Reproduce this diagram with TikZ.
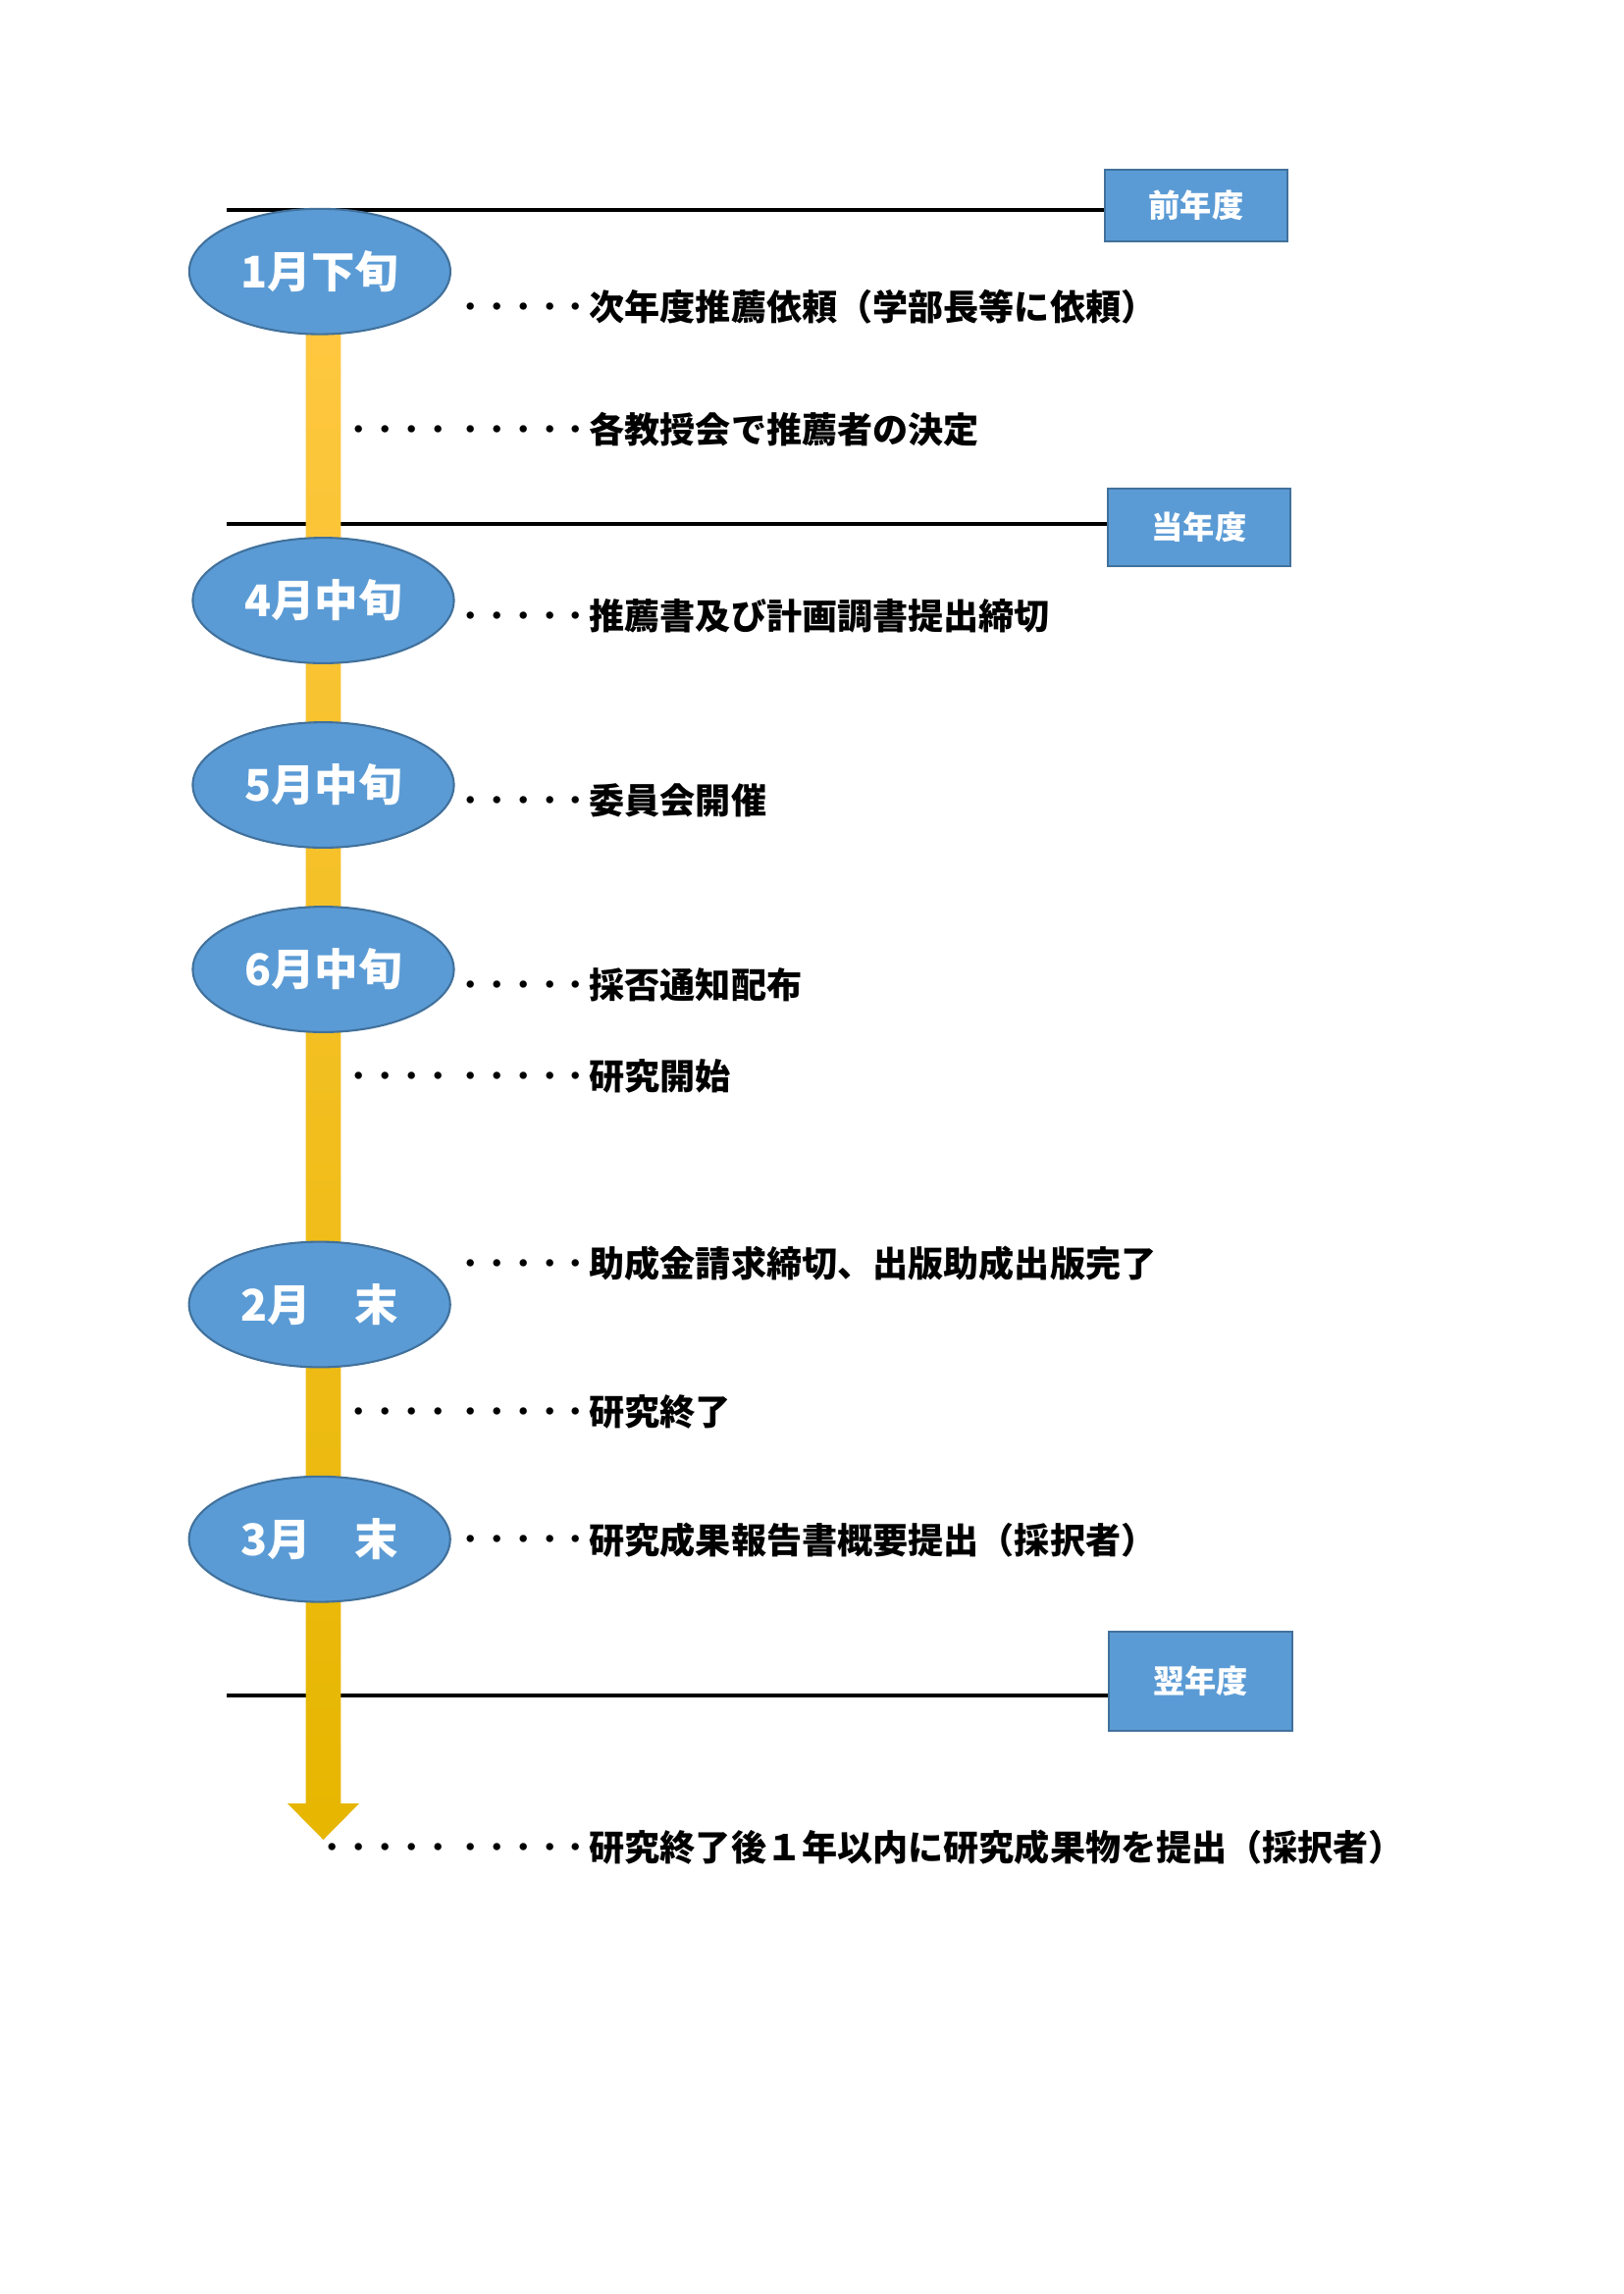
\documentclass[tikz,border=0pt]{standalone}
\usepackage{fontspec}
\newfontfamily\jp{Noto Sans CJK JP}
\usetikzlibrary{shapes.geometric,calc}
\pgfdeclarelayer{background}
\pgfsetlayers{background,main}
\definecolor{eblue}{RGB}{91,155,213}
\definecolor{eline}{RGB}{65,113,156}
\definecolor{barTop}{RGB}{255,200,66}
\definecolor{barMid}{RGB}{255,192,0}
\definecolor{barBot}{RGB}{230,182,0}
\newcommand\mydot{\makebox[9.68pt]{\raisebox{1.5pt}{\fontsize{9.5}{9.5}\selectfont\bfseries ・}}}
\newcommand\mydotgap{\kern2.2pt}
\newcommand\dotsfive{\mydot\mydot\mydot\mydot\mydot}
\newcommand\dotsnine{\mydot\mydot\mydot\mydot\mydotgap\dotsfive}
\newcommand\dotsten{\mydot\mydot\mydot\mydot\mydot\mydotgap\dotsfive}
\newcommand\leftdots[1]{\makebox[0pt][r]{#1}}
\tikzset{
  month/.style={ellipse, fill=eblue, draw=eline, line width=0.75pt,
    minimum width=95.8pt, minimum height=46pt, inner sep=0pt, text=white,
    font=\jp\bfseries\fontsize{16}{16}\selectfont},
  yearbox/.style={rectangle, fill=eblue, draw=eline, line width=0.9pt,
    inner sep=0pt, text=white, font=\jp\bfseries\fontsize{11.6}{12}\selectfont},
  evt/.style={anchor=west, inner sep=0pt, text=black,
    font=\jp\bfseries\fontsize{13}{13}\selectfont},
  yline/.style={draw=black, line width=1.4pt}
}
\begin{document}
\begin{tikzpicture}[x=0.36pt,y=-0.36pt]
\useasboundingbox (0,0) rectangle (1654,2338);

% year boxes
\node[yearbox, minimum width=67pt, minimum height=26.3pt] (b1) at (1219,209.5) {前年度};
\node[yearbox, minimum width=67pt, minimum height=28.4pt] (b2) at (1222,537.5) {当年度};
\node[yearbox, minimum width=67.3pt, minimum height=36.4pt] (b3) at (1223.5,1713.6) {翌年度};

% month ellipses
\node[month] (e1) at (325.9,276.7) {1月下旬};
\node[month] (e2) at (329.5,612) {4月中旬};
\node[month] (e3) at (329.5,800) {5月中旬};
\node[month] (e4) at (329.5,988) {6月中旬};
\node[month] (e5) at (325.7,1329.5) {2月　末};
\node[month] (e6) at (325.7,1568.7) {3月　末};

% events
\node[evt] (t1) at (600,313) {\leftdots{\dotsfive}次年度推薦依頼（学部長等に依頼）};
\node[evt] (t2) at (600,438) {\leftdots{\dotsnine}各教授会で推薦者の決定};
\node[evt] (t3) at (600,628) {\leftdots{\dotsfive}推薦書及び計画調書提出締切};
\node[evt] (t4) at (600,815.6) {\leftdots{\dotsfive}委員会開催};
\node[evt] (t5) at (600,1003.4) {\leftdots{\dotsfive}採否通知配布};
\node[evt] (t6) at (600,1097.4) {\leftdots{\dotsnine}研究開始};
\node[evt] (t7) at (600,1288) {\leftdots{\dotsfive}助成金請求締切、出版助成出版完了};
\node[evt] (t8) at (600,1438.8) {\leftdots{\dotsnine}研究終了};
\node[evt] (t9) at (600,1569.3) {\leftdots{\dotsfive}研究成果報告書概要提出（採択者）};
\node[evt] (t10) at (600,1883) {\leftdots{\dotsten}研究終了後１年以内に研究成果物を提出（採択者）};

\coordinate (l1) at (231,214);
\coordinate (l2) at (231,534);
\coordinate (l3) at (231,1727.7);
\coordinate (tip) at (329.5,1875);

\begin{pgfonlayer}{background}
  \draw[yline] (l1) -- (l1 -| b1.west);
  \draw[yline] (l2) -- (l2 -| b2.west);
  \draw[yline] (l3) -- (l3 -| b3.west);
  \shade[top color=barTop, middle color=barMid, bottom color=barBot]
    ($(tip |- e1.center)+(-17.8,0)$) -- ($(tip)+(-17.8,-37)$) --
    ($(tip)+(-36.6,-37)$) -- (tip) -- ($(tip)+(36.6,-37)$) --
    ($(tip)+(17.8,-37)$) -- ($(tip |- e1.center)+(17.8,0)$) -- cycle;
\end{pgfonlayer}
\end{tikzpicture}
\end{document}
